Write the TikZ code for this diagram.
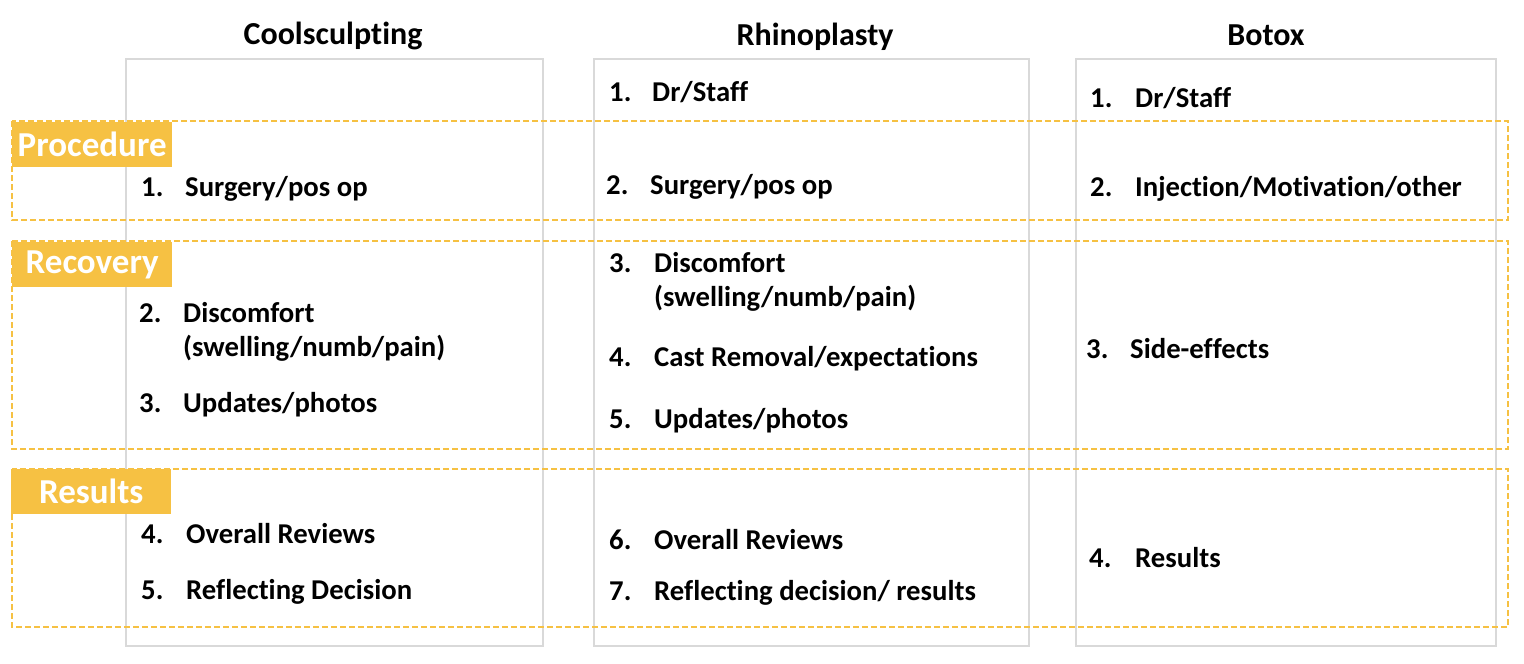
\documentclass[tikz,border=0pt]{standalone}
\usepackage{fontspec}
\setmainfont{Carlito}[Ligatures=NoCommon]
\definecolor{gold}{RGB}{246,193,67}
\definecolor{boxgray}{RGB}{217,217,217}
\tikzset{
  colbox/.style={draw=boxgray, line width=2pt},
  band/.style={draw=gold, line width=1.6pt, dash pattern=on 6pt off 3pt},
  tag/.style={fill=gold, text=white, font=\bfseries\fontsize{35}{38}\selectfont, inner sep=0pt, minimum width=160pt, minimum height=45pt},
  head/.style={font=\bfseries\fontsize{32}{36}\selectfont, anchor=base},
  item/.style={font=\bfseries\fontsize{28.7}{32}\selectfont, anchor=base west, inner sep=0pt},
}
\newcommand{\itm}[3]{\makebox[#1pt][l]{#2}#3}
\begin{document}
\begin{tikzpicture}[x=1pt,y=-1pt]
\useasboundingbox (0,0) rectangle (1524,664);
% columns
\draw[colbox] (126,59) rectangle (543,646);
\draw[colbox] (594,59) rectangle (1029,646);
\draw[colbox] (1076,59) rectangle (1496,646);
% headers
\node[head] (h1) at (333,44) {Coolsculpting};
\node[head] (h2) at (815,45) {Rhinoplasty};
\node[head] (h3) at (1266,45) {Botox};
% bands
\draw[band] (12,121) rectangle (1508,220);
\draw[band] (12,241) rectangle (1508,449);
\draw[band] (12,469) rectangle (1508,627);
% tags
\node[tag, anchor=north west] (t1) at (12,122) {Procedure};
\node[tag, anchor=north west] (t2) at (12,242) {Recovery};
\node[tag, anchor=north west] (t3) at (11,469) {Results};
% column 1
\node[item] (a1) at (141,196) {\itm{44}{1.}{Surgery/pos op}};
\node[item] (a2) at (139,322) {\itm{44}{2.}{Discomfort}};
\node[item] (a2b) at (183,356) {(swelling/numb/pain)};
\node[item] (a3) at (139,412) {\itm{44}{3.}{Updates/photos}};
\node[item] (a4) at (141,543) {\itm{45}{4.}{Overall Reviews}};
\node[item] (a5) at (141,599) {\itm{45}{5.}{Reflecting Decision}};
% column 2
\node[item] (b1) at (609,101) {\itm{43}{1.}{Dr/Staff}};
\node[item] (b2) at (606,194) {\itm{44}{2.}{Surgery/pos op}};
\node[item] (b3) at (609,272) {\itm{45}{3.}{Discomfort}};
\node[item] (b3b) at (654,306) {(swelling/numb/pain)};
\node[item] (b4) at (609,366) {\itm{45}{4.}{Cast Removal/expectations}};
\node[item] (b5) at (609,428) {\itm{45}{5.}{Updates/photos}};
\node[item] (b6) at (609,549) {\itm{45}{6.}{Overall Reviews}};
\node[item] (b7) at (609,600) {\itm{45}{7.}{Reflecting decision/ results}};
% column 3
\node[item] (c1) at (1090,107) {\itm{45}{1.}{Dr/Staff}};
\node[item] (c2) at (1090,196) {\itm{45}{2.}{Injection/Motivation/other}};
\node[item] (c3) at (1086,358) {\itm{44}{3.}{Side-effects}};
\node[item] (c4) at (1089,567) {\itm{46}{4.}{Results}};
\end{tikzpicture}
\end{document}
